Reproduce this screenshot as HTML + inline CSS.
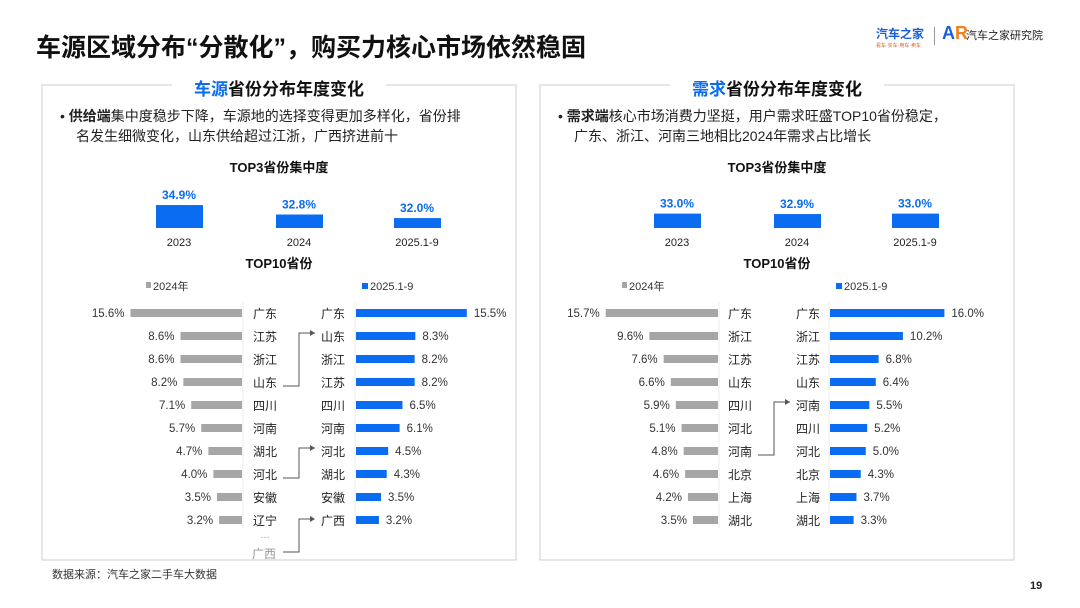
<!DOCTYPE html>
<html><head><meta charset="utf-8"><style>
body{margin:0;width:1080px;height:608px;background:#fff;font-family:"Liberation Sans","Noto Sans CJK SC",sans-serif;overflow:hidden;position:relative}
.abs{position:absolute}
</style></head><body>
<div class="abs" style="left:36px;top:28px;font-size:25px;font-weight:bold;color:#111">车源区域分布“分散化”，购买力核心市场依然稳固</div>
<div class="abs" style="left:876px;top:25px;font-size:12px;font-weight:bold;color:#1a5fd6">汽车之家<div style="font-size:5px;color:#e06020;font-weight:normal">看车·买车·用车·卖车</div></div>
<div class="abs" style="left:934px;top:27px;width:1px;height:18px;background:#999"></div>
<div class="abs" style="left:942px;top:23px;font-size:18px;font-weight:bold;color:#1a5fd6">A<span style="color:#f08020">R</span></div>
<div class="abs" style="left:966px;top:27px;font-size:11px;color:#222">汽车之家研究院</div>
<svg class="abs" style="left:0;top:0" width="1080" height="608" id="svg"></svg>
<div class="abs" style="left:52px;top:566px;font-size:11px;color:#333">数据来源：汽车之家二手车大数据</div>
<div class="abs" style="left:1030px;top:580px;font-size:11px;font-weight:bold;color:#222">19</div>
<script>
const topYears=["2023","2024","2025.1-9"];
const supplyTop3=[34.9,32.8,32.0];
const demandTop3=[33.0,32.9,33.0];
const supply24Names=["广东","江苏","浙江","山东","四川","河南","湖北","河北","安徽","辽宁"];
const supply24Vals=[15.6,8.6,8.6,8.2,7.1,5.7,4.7,4.0,3.5,3.2];
const supply25Names=["广东","山东","浙江","江苏","四川","河南","河北","湖北","安徽","广西"];
const supply25Vals=[15.5,8.3,8.2,8.2,6.5,6.1,4.5,4.3,3.5,3.2];
const demand24Names=["广东","浙江","江苏","山东","四川","河北","河南","北京","上海","湖北"];
const demand24Vals=[15.7,9.6,7.6,6.6,5.9,5.1,4.8,4.6,4.2,3.5];
const demand25Names=["广东","浙江","江苏","山东","河南","四川","河北","北京","上海","湖北"];
const demand25Vals=[16.0,10.2,6.8,6.4,5.5,5.2,5.0,4.3,3.7,3.3];
const svg=document.getElementById('svg');const NS='http://www.w3.org/2000/svg';
function el(t,a,txt){const e=document.createElementNS(NS,t);for(const k in a)e.setAttribute(k,a[k]);if(txt!==undefined)e.textContent=txt;svg.appendChild(e);return e;}
const GRAY='#a6a6a6',BLUE='#0a6cf0';
function panel(x0,hl,rest,bullet1,bl1,bullet2,top3,n24,v24,n25,v25,grayRight,lab1,lab2,blueLeft,arrows,extra){
  let e=el('rect',{x:x0,y:85,width:474,height:475,fill:'none',stroke:'#ccc'});
  
  e=el('rect',{x:x0+130,y:78,width:214,height:16,fill:'#fff'});
  
  const t=el('text',{x:x0+237,y:95,'text-anchor':'middle','font-size':17,'font-weight':'bold',fill:'#111'});
  
  const s1=document.createElementNS(NS,'tspan');s1.setAttribute('fill',BLUE);s1.textContent=hl;t.appendChild(s1);
  const s2=document.createElementNS(NS,'tspan');s2.textContent=rest;t.appendChild(s2);
  const b=el('text',{x:x0+18,y:121,'font-size':14,fill:'#222'});
  
  const a1=document.createElementNS(NS,'tspan');a1.textContent='•  ';b.appendChild(a1);
  const a2=document.createElementNS(NS,'tspan');a2.setAttribute('font-weight','bold');a2.textContent=bullet1;b.appendChild(a2);
  const a3=document.createElementNS(NS,'tspan');a3.textContent=bl1;b.appendChild(a3);
  e=el('text',{x:x0+34,y:141,'font-size':14,fill:'#222'},bullet2);
  
  e=el('text',{x:x0+237,y:172,'text-anchor':'middle','font-size':13,'font-weight':'bold',fill:'#111'},'TOP3省份集中度');
  
  const cx=[x0+137,x0+257,x0+375];
  top3.forEach((v,i)=>{const h=(v-29.8)*4.5;
    e=el('rect',{x:cx[i]-23,y:228-h,width:47,height:h,fill:BLUE});
    
    e=el('text',{x:cx[i],y:228-h-6,'text-anchor':'middle','font-size':12,'font-weight':'bold',fill:BLUE},v.toFixed(1)+'%');
    
    e=el('text',{x:cx[i],y:246,'text-anchor':'middle','font-size':11,fill:'#222'},topYears[i]);
    
  });
  e=el('text',{x:x0+237,y:268,'text-anchor':'middle','font-size':13,'font-weight':'bold',fill:'#111'},'TOP10省份');
  
  e=el('rect',{x:grayRight-96,y:282,width:5,height:6,fill:GRAY});
  e=el('text',{x:grayRight-89,y:290,'font-size':11,fill:'#333'},'2024年');
  e=el('rect',{x:blueLeft+6,y:283,width:6,height:6,fill:BLUE});
  e=el('text',{x:blueLeft+14,y:290,'font-size':11,fill:'#333'},'2025.1-9');
  e=el('line',{x1:grayRight+1,y1:302,x2:grayRight+1,y2:528,stroke:'#eee'});
  e=el('line',{x1:blueLeft-1,y1:302,x2:blueLeft-1,y2:528,stroke:'#eee'});
  const sc=7.15;
  for(let i=0;i<10;i++){const y=313+i*23;
    const w1=v24[i]*sc;
    e=el('rect',{x:grayRight-w1,y:y-4,width:w1,height:8,fill:GRAY});
    e=el('text',{x:grayRight-w1-6,y:y+4,'text-anchor':'end','font-size':11.5,fill:'#333'},v24[i].toFixed(1)+'%');
    e=el('text',{x:lab1,y:y+5,'text-anchor':'middle','font-size':12,fill:'#222'},n24[i]);
    e=el('text',{x:lab2,y:y+5,'text-anchor':'middle','font-size':12,fill:'#222'},n25[i]);
    const w2=v25[i]*sc;
    e=el('rect',{x:blueLeft,y:y-4,width:w2,height:8,fill:BLUE});
    e=el('text',{x:blueLeft+w2+7,y:y+4,'font-size':11.5,fill:'#333'},v25[i].toFixed(1)+'%');
  }
  arrows.forEach(([f,t])=>{const y1=313+f*23+4,y2=313+t*23-3;const mx=(lab1+lab2)/2;
    e=el('path',{d:`M${lab1+18} ${y1} H${mx} V${y2} H${lab2-18}`,fill:'none',stroke:'#555','stroke-width':1});
    e=el('path',{d:`M${lab2-18} ${y2} l-5 -3 v6 z`,fill:'#555'});
  });
  if(extra)extra();
}
panel(42,'车源','省份分布年度变化','供给端','集中度稳步下降，车源地的选择变得更加多样化，省份排','名发生细微变化，山东供给超过江浙，广西挤进前十',supplyTop3,supply24Names,supply24Vals,supply25Names,supply25Vals,242,265,333,356,[[3,1],[7,6]],()=>{
  let e=el('text',{x:265,y:538,'text-anchor':'middle','font-size':10,fill:'#999'},'…');
  e=el('text',{x:264,y:558,'text-anchor':'middle','font-size':12,fill:'#999'},'广西');
  e=el('path',{d:'M283 552 H299 V519 H313',fill:'none',stroke:'#555'});
  e=el('path',{d:'M315 519 l-5 -3 v6 z',fill:'#555'});
});
panel(540,'需求','省份分布年度变化','需求端','核心市场消费力坚挺，用户需求旺盛TOP10省份稳定，','广东、浙江、河南三地相比2024年需求占比增长',demandTop3,demand24Names,demand24Vals,demand25Names,demand25Vals,718,740,808,830,[[6,4]]);
</script>
</body></html>
